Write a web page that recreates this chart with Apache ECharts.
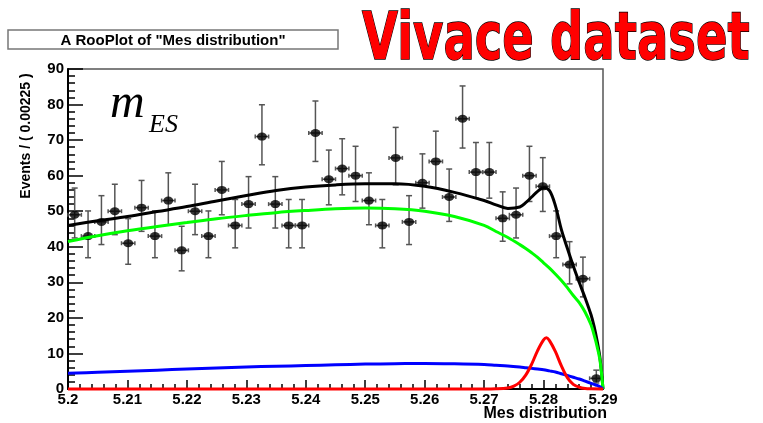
<!DOCTYPE html>
<html>
<head>
<meta charset="utf-8">
<script src="https://cdn.jsdelivr.net/npm/echarts@6/dist/echarts.min.js"></script>
<style>
  html, body { margin: 0; padding: 0; background: #fff; }
  #chart { width: 763px; height: 423px; }
</style>
</head>
<body>
<div id="chart"></div>
<script>
// Binned m_ES data: 40 bins of width 0.00225 starting at 5.2
const binStart = 5.2;
const binWidth = 0.00225;
const counts = [49, 43, 47, 50, 41, 51, 43, 53, 39, 50,
                43, 56, 46, 52, 71, 52, 46, 46, 72, 59,
                62, 60, 53, 46, 65, 47, 58, 64, 54, 76,
                61, 61, 48, 49, 60, 57, 43, 35, 31, 3];

// Axis tick labels
const xTickLabels = ['5.2', '5.21', '5.22', '5.23', '5.24', '5.25', '5.26', '5.27', '5.28', '5.29'];
const yTickLabels = ['0', '10', '20', '30', '40', '50', '60', '70', '80', '90'];

// Fitted model curves sampled along m_ES
const curveX = [5.2, 5.205, 5.21, 5.215, 5.22, 5.225, 5.23, 5.235, 5.24, 5.245,
                5.25, 5.255, 5.26, 5.265, 5.27, 5.272, 5.274, 5.276, 5.277, 5.278,
                5.279, 5.28, 5.281, 5.282, 5.283, 5.284, 5.285, 5.286, 5.287, 5.288,
                5.2885, 5.289, 5.2895, 5.29];
const totalY = [46.0, 47.3, 48.5, 49.9, 51.3, 52.9, 54.4, 55.8, 56.8, 57.4,
                57.7, 57.7, 57.0, 55.3, 53.0, 51.8, 50.8, 51.2, 52.4, 54.0,
                55.6, 56.6, 55.8, 51.5, 44.8, 39.6, 34.6, 30.0, 25.6, 20.8,
                17.6, 13.6, 8.6, 0];
const argusY = [41.5, 43.1, 44.5, 45.7, 46.8, 47.9, 48.8, 49.6, 50.2, 50.7,
                50.9, 50.7, 50.0, 48.5, 46.0, 44.3, 42.6, 40.6, 39.5, 38.3,
                37.0, 35.5, 34.0, 32.3, 30.5, 28.5, 26.3, 24.3, 21.6, 18.0,
                15.2, 12.0, 8.0, 0];
const peakingBkgY = [4.4, 4.7, 5.0, 5.3, 5.6, 5.9, 6.2, 6.4, 6.6, 6.8,
                     7.0, 7.1, 7.2, 7.1, 6.9, 6.7, 6.5, 6.2, 6.0, 5.8,
                     5.6, 5.4, 5.1, 4.8, 4.3, 3.8, 3.3, 2.8, 2.2, 1.6,
                     1.3, 1.0, 0.6, 0];
const gaussX = [5.2, 5.27, 5.272, 5.274, 5.275, 5.276, 5.277, 5.278, 5.279, 5.28,
                5.2805, 5.281, 5.282, 5.283, 5.284, 5.285, 5.286, 5.287, 5.288, 5.29];
const gaussY = [0, 0, 0.05, 0.3, 0.8, 1.9, 3.9, 7.0, 10.8, 13.8,
                14.4, 13.6, 10.5, 6.5, 3.2, 1.3, 0.5, 0.15, 0.05, 0];

// Poisson-style asymmetric error interval for each bin count
const dataPoints = counts.map((n, i) => {
  const c = binStart + (i + 0.5) * binWidth;
  const s = Math.sqrt(n + 0.25);
  return [c, n - s + 0.5, n + s + 0.5, n];
});

const zip = (xs, ys) => xs.map((x, i) => [x, ys[i]]);

const chart = echarts.init(document.getElementById('chart'), null, { renderer: 'canvas' });

const tickFont = { color: '#000', fontFamily: '"Liberation Sans", Arial, sans-serif', fontWeight: 'bold', fontSize: 15 };

function curve(name, xs, ys, color, z) {
  return {
    name, type: 'line', data: zip(xs, ys), showSymbol: false, symbol: 'none',
    smooth: 0.35, clip: false, z,
    lineStyle: { color, width: 3 },
    animation: false
  };
}

chart.setOption({
  animation: false,
  backgroundColor: '#fff',
  grid: { left: 68, right: 160, top: 69, bottom: 34, show: true, borderColor: '#555', borderWidth: 1.5, backgroundColor: 'transparent' },
  xAxis: {
    type: 'value', min: 5.2, max: 5.29, interval: 0.01,
    axisLine: { show: true, onZero: false, lineStyle: { color: '#000', width: 2 } },
    axisTick: { show: true, inside: true, length: 9, lineStyle: { color: '#000', width: 1.5 } },
    minorTick: { show: true, splitNumber: 5, length: 5, lineStyle: { color: '#000', width: 1.5 } },
    axisLabel: Object.assign({ margin: 3, formatter: v => xTickLabels[Math.round((v - 5.2) / 0.01)] }, tickFont),
    splitLine: { show: false }
  },
  yAxis: {
    type: 'value', min: 0, max: 90, interval: 10,
    axisLine: { show: true, onZero: false, lineStyle: { color: '#000', width: 2 } },
    axisTick: { show: true, inside: true, length: 15, lineStyle: { color: '#000', width: 1.5 } },
    minorTick: { show: true, splitNumber: 5, length: 7, lineStyle: { color: '#000', width: 1.5 } },
    axisLabel: Object.assign({ margin: 4, formatter: v => yTickLabels[Math.round(v / 10)] }, tickFont),
    splitLine: { show: false }
  },
  series: [
    {
      name: 'errors', type: 'custom', data: dataPoints, z: 3, clip: false,
      encode: { x: 0, y: [1, 2, 3] },
      renderItem(params, api) {
        const xc = api.value(0), lo = api.value(1), hi = api.value(2), n = api.value(3);
        const pc = api.coord([xc, n]);
        const pLo = api.coord([xc, lo]);
        const pHi = api.coord([xc, hi]);
        const pL = api.coord([xc - binWidth / 2, n]);
        const pR = api.coord([xc + binWidth / 2, n]);
        const style = { stroke: '#555', lineWidth: 1.5, fill: null };
        const seg = (x1, y1, x2, y2) => ({ type: 'line', shape: { x1, y1, x2, y2 }, style });
        return {
          type: 'group',
          children: [
            seg(pc[0], pLo[1], pc[0], pHi[1]),
            seg(pc[0] - 3, pLo[1], pc[0] + 3, pLo[1]),
            seg(pc[0] - 3, pHi[1], pc[0] + 3, pHi[1]),
            seg(pL[0], pc[1], pR[0], pc[1]),
            seg(pL[0], pc[1] - 2, pL[0], pc[1] + 2),
            seg(pR[0], pc[1] - 2, pR[0], pc[1] + 2)
          ]
        };
      }
    },
    {
      name: 'data', type: 'scatter', z: 4, clip: false,
      data: dataPoints.map(p => [p[0], p[3]]),
      symbol: 'circle', symbolSize: [10, 8],
      itemStyle: { color: '#000' }
    },
    curve('total', curveX, totalY, '#000', 5),
    curve('argus', curveX, argusY, '#00ff00', 6),
    curve('peaking', curveX, peakingBkgY, '#0000ff', 6),
    curve('signal', gaussX, gaussY, '#ff0000', 7)
  ],
  graphic: [
    { type: 'rect', shape: { x: 8, y: 30, width: 330, height: 19 }, style: { fill: '#fff', stroke: '#777', lineWidth: 1.5 } },
    { type: 'text', x: 173, y: 41, style: { text: 'A RooPlot of "Mes distribution"', font: 'bold 15px "Liberation Sans", Arial, sans-serif', fill: '#000', textAlign: 'center', textVerticalAlign: 'middle' } },
    { type: 'text', x: 362, y: 42, scaleY: 1.4, z: 10,
      style: { text: 'Vivace dataset', font: 'bold 46.5px "Comic Sans MS", "DejaVu Sans", sans-serif', fill: '#ff0000', stroke: '#000', lineWidth: 1,
               textAlign: 'left', textVerticalAlign: 'middle', shadowColor: '#000', shadowOffsetX: 3, shadowOffsetY: 3, shadowBlur: 1 } },
    { type: 'text', x: 110, y: 104, style: { text: 'm', font: 'italic 48px "Liberation Serif", "Times New Roman", serif', fill: '#000', textAlign: 'left', textVerticalAlign: 'middle' } },
    { type: 'text', x: 149, y: 125, style: { text: 'ES', font: 'italic 26px "Liberation Serif", "Times New Roman", serif', fill: '#000', textAlign: 'left', textVerticalAlign: 'middle' } },
    { type: 'text', x: 26, y: 136, rotation: Math.PI / 2, style: { text: 'Events / ( 0.00225 )', font: 'bold 14px "Liberation Sans", Arial, sans-serif', fill: '#000', textAlign: 'center', textVerticalAlign: 'middle' } },
    { type: 'text', x: 607, y: 414, style: { text: 'Mes distribution', font: 'bold 16px "Liberation Sans", Arial, sans-serif', fill: '#000', textAlign: 'right', textVerticalAlign: 'middle' } }
  ]
});
</script>
</body>
</html>
